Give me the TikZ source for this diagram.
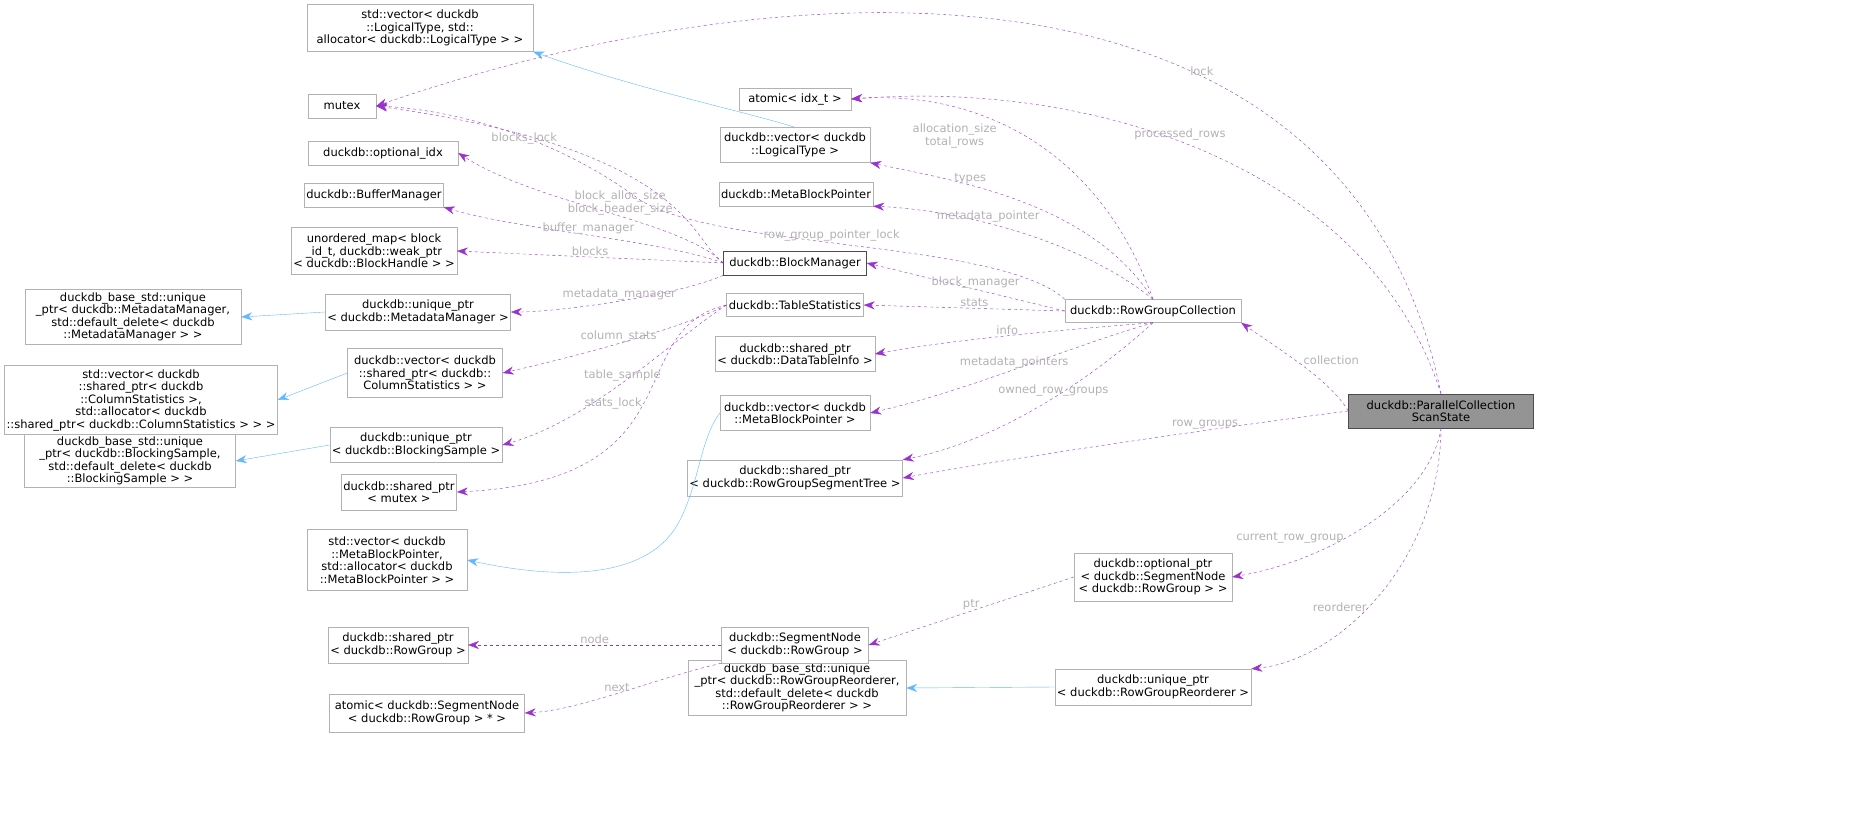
\documentclass[tikz,border=0pt]{standalone}
\usepackage{fontspec}
\setmainfont{DejaVu Sans}
\usetikzlibrary{arrows.meta}
\definecolor{dep}{HTML}{9A32CD}
\definecolor{inh}{HTML}{63B8FF}
\begin{document}
\begin{tikzpicture}[x=1pt, y=-1pt,
  box/.style={draw=black!30, fill=white, align=center, inner sep=2pt, font=\fontsize{11.5}{12.5}\selectfont},
  use/.style={-{Stealth[length=11pt,width=8pt]}, dep, dashed, thin},
  base/.style={-{Stealth[length=11pt,width=8pt]}, inh, thin},
  lbl/.style={text=black!30, font=\fontsize{11.5}{12.5}\selectfont, align=center, inner sep=1pt}]
\useasboundingbox (0,0) rectangle (1859,825);
			% Nodes
			\node[box, minimum width=226, minimum height=47] (stdvecLT) at (420,28) {std::vector< duckdb\\::LogicalType, std::\\allocator< duckdb::LogicalType > >};
			\node[box, minimum width=68, minimum height=24] (mutex) at (342,106) {mutex};
			\node[box, minimum width=150, minimum height=24] (optidx) at (383,153) {duckdb::optional\_idx};
			\node[box, minimum width=133, minimum height=24] (bufmgr) at (374,195) {duckdb::BufferManager};
			\node[box, minimum width=133, minimum height=47] (umap) at (374,251) {unordered\_map< block\\\_id\_t, duckdb::weak\_ptr\\< duckdb::BlockHandle > >};
			\node[box, minimum width=216, minimum height=55] (baseMM) at (133,317) {duckdb\_base\_std::unique\\\_ptr< duckdb::MetadataManager,\\ std::default\_delete< duckdb\\::MetadataManager > >};
			\node[box, minimum width=174, minimum height=36] (uptrMM) at (418,312) {duckdb::unique\_ptr\\< duckdb::MetadataManager >};
			\node[box, minimum width=273, minimum height=69] (stdvecCS) at (141,400) {std::vector< duckdb\\::shared\_ptr< duckdb\\::ColumnStatistics >,\\ std::allocator< duckdb\\::shared\_ptr< duckdb::ColumnStatistics > > >};
			\node[box, minimum width=155, minimum height=49] (vecCS) at (425,373) {duckdb::vector< duckdb\\::shared\_ptr< duckdb::\\ColumnStatistics > >};
			\node[box, minimum width=211, minimum height=51] (baseBS) at (130,461) {duckdb\_base\_std::unique\\\_ptr< duckdb::BlockingSample,\\ std::default\_delete< duckdb\\::BlockingSample > >};
			\node[box, minimum width=160, minimum height=35] (uptrBS) at (416,445) {duckdb::unique\_ptr\\< duckdb::BlockingSample >};
			\node[box, minimum width=111, minimum height=36] (sptrmutex) at (399,492) {duckdb::shared\_ptr\\< mutex >};
			\node[box, minimum width=160, minimum height=61] (stdvecMBP) at (387,560) {std::vector< duckdb\\::MetaBlockPointer,\\ std::allocator< duckdb\\::MetaBlockPointer > >};
			\node[box, minimum width=139, minimum height=36] (sptrRG) at (398,645) {duckdb::shared\_ptr\\< duckdb::RowGroup >};
			\node[box, minimum width=195, minimum height=38] (atomicSN) at (427,713) {atomic< duckdb::SegmentNode\\< duckdb::RowGroup > * >};
			\node[box, minimum width=218, minimum height=55] (baseRGR) at (797,688) {duckdb\_base\_std::unique\\\_ptr< duckdb::RowGroupReorderer,\\ std::default\_delete< duckdb\\::RowGroupReorderer > >};
			\node[box, minimum width=112, minimum height=22] (atomicidx) at (795,99) {atomic< idx\_t >};
			\node[box, minimum width=150, minimum height=35] (vecLT) at (795,145) {duckdb::vector< duckdb\\::LogicalType >};
			\node[box, minimum width=122, minimum height=24] (mbp) at (796,194) {duckdb::MetaBlockPointer};
			\node[box, draw=black!70, minimum width=143, minimum height=24] (blockmgr) at (795,263) {duckdb::BlockManager};
			\node[box, minimum width=137, minimum height=23] (tstats) at (795,305) {duckdb::TableStatistics};
			\node[box, minimum width=147, minimum height=35] (sptrDTI) at (795,354) {duckdb::shared\_ptr\\< duckdb::DataTableInfo >};
			\node[box, minimum width=150, minimum height=35] (vecMBP) at (795,413) {duckdb::vector< duckdb\\::MetaBlockPointer >};
			\node[box, minimum width=196, minimum height=36] (sptrRGST) at (795,478) {duckdb::shared\_ptr\\< duckdb::RowGroupSegmentTree >};
			\node[box, minimum width=147, minimum height=36] (segnode) at (795,645) {duckdb::SegmentNode\\< duckdb::RowGroup >};
			\node[box, minimum width=176, minimum height=23] (rgc) at (1153,311) {duckdb::RowGroupCollection};
			\node[box, minimum width=158, minimum height=48] (optptr) at (1153,577) {duckdb::optional\_ptr\\< duckdb::SegmentNode\\< duckdb::RowGroup > >};
			\node[box, minimum width=193, minimum height=36] (uptrRGR) at (1153,687) {duckdb::unique\_ptr\\< duckdb::RowGroupReorderer >};
			\node[box, draw=black!70, fill=black!42, minimum width=185, minimum height=34] (pcss) at (1441,411) {duckdb::ParallelCollection\\ScanState};
			% Inheritance
			\draw[base] (vecLT.north) .. controls (740,110) and (640,90) .. (stdvecLT.south east);
			\draw[base] (uptrMM.west) -- (baseMM.east);
			\draw[base] (vecCS.west) -- (stdvecCS.east);
			\draw[base] (uptrBS.west) -- (baseBS.east);
			\draw[base] (vecMBP.west) .. controls (700,440) and (700,480) .. (680,520) .. controls (650,580) and (560,580) .. (stdvecMBP.east);
			\draw[base] (uptrRGR.west) -- (baseRGR.east);
			% Members of the scan state
			\draw[use] (pcss.north) .. controls (1350,-60) and (800,-40) .. node[lbl, pos=0.35, above] {lock} (mutex.east);
			\draw[use] (pcss.north) .. controls (1370,170) and (1100,80) .. node[lbl, pos=0.55, above] {processed\_rows} (atomicidx.east);
			\draw[use] (pcss.west) .. controls (1330,380) and (1280,350) .. node[lbl, pos=0.5, above right] {collection} (rgc.south east);
			\draw[use] (pcss.west) .. controls (1200,430) and (1000,460) .. node[lbl, pos=0.3, above] {row\_groups} (sptrRGST.east);
			\draw[use] (pcss.south) .. controls (1430,500) and (1330,560) .. node[lbl, pos=0.6, left] {current\_row\_group} (optptr.east);
			\draw[use] (pcss.south) .. controls (1440,560) and (1340,660) .. node[lbl, pos=0.55, left] {reorderer} (uptrRGR.north east);
			% Members of the row group collection
			\draw[use] (rgc.north) .. controls (1100,150) and (980,90) .. node[lbl, pos=0.6, below left] {allocation\_size\\total\_rows} (atomicidx.east);
			\draw[use] (rgc.north) .. controls (1090,200) and (950,180) .. node[lbl, pos=0.65, above] {types} (vecLT.south east);
			\draw[use] (rgc.north) .. controls (1080,240) and (960,210) .. node[lbl, pos=0.6, above] {metadata\_pointer} (mbp.south east);
			\draw[use] (rgc.north west) .. controls (1000,240) and (720,250) .. node[lbl, pos=0.55, above] {row\_group\_pointer\_lock} (640,200) .. controls (560,140) and (460,110) .. (mutex.east);
			\draw[use] (rgc.west) -- node[lbl, pos=0.45, above] {block\_manager} (blockmgr.east);
			\draw[use] (rgc.west) -- node[lbl, pos=0.45, above] {stats} (tstats.east);
			\draw[use] (rgc.south) .. controls (1060,330) and (950,340) .. node[lbl, pos=0.5, above] {info} (sptrDTI.east);
			\draw[use] (rgc.south) .. controls (1060,350) and (970,390) .. node[lbl, pos=0.5, above] {metadata\_pointers} (vecMBP.east);
			\draw[use] (rgc.south) .. controls (1090,380) and (1000,440) .. node[lbl, pos=0.45, above] {owned\_row\_groups} (sptrRGST.north east);
			% Members of the block manager
			\draw[use] (blockmgr.west) .. controls (690,240) and (690,150) .. node[lbl, pos=0.75, above left] {blocks\_lock} (mutex.east);
			\draw[use] (blockmgr.west) .. controls (680,220) and (540,205) .. node[lbl, pos=0.45, above] {block\_alloc\_size\\block\_header\_size} (optidx.east);
			\draw[use] (blockmgr.west) .. controls (660,240) and (520,230) .. node[lbl, pos=0.5, above] {buffer\_manager} (bufmgr.south east);
			\draw[use] (blockmgr.west) -- node[lbl, pos=0.5, above] {blocks} (umap.east);
			\draw[use] (blockmgr.south west) .. controls (680,295) and (560,312) .. node[lbl, pos=0.5, above] {metadata\_manager} (uptrMM.east);
			% Members of the table statistics
			\draw[use] (tstats.west) .. controls (680,330) and (560,360) .. node[lbl, pos=0.5, above] {column\_stats} (vecCS.east);
			\draw[use] (tstats.west) .. controls (660,350) and (590,420) .. node[lbl, pos=0.5, above] {table\_sample} (uptrBS.east);
			\draw[use] (tstats.west) .. controls (620,330) and (700,480) .. node[lbl, pos=0.5, left] {stats\_lock} (sptrmutex.east);
			% Members of the segment node
			\draw[use] (segnode.west) -- node[lbl, pos=0.5, above] {node} (sptrRG.east);
			\draw[use] (segnode.south west) .. controls (650,680) and (580,710) .. node[lbl, pos=0.5, above] {next} (atomicSN.east);
			\draw[use] (optptr.west) -- node[lbl, pos=0.5, above] {ptr} (segnode.east);
		\end{tikzpicture}
\end{document}
